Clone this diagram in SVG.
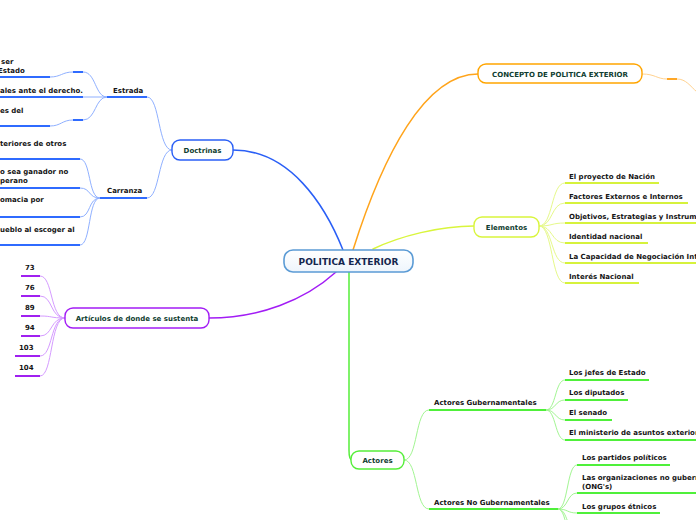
<svg xmlns="http://www.w3.org/2000/svg" width="696" height="520" viewBox="0 0 696 520">
<defs>
<style>
.t{font-family:"DejaVu Sans",Verdana,sans-serif;font-size:7px;font-weight:bold;fill:#151515}
.nl{fill:#0f3d30;text-anchor:middle}
.c{fill:none;stroke-linecap:round}
.node{fill:#fff;stroke-width:1.4}
.ub{stroke:#2f6bff;stroke-width:2;fill:none}
.lb{stroke:#8fb0ff;stroke-width:1;fill:none}
.uo{stroke:#ffa726;stroke-width:2;fill:none}
.lo{stroke:#ffd28f;stroke-width:1;fill:none}
.uy{stroke:#d6f23c;stroke-width:2;fill:none}
.ly{stroke:#e6f98a;stroke-width:1;fill:none}
.up{stroke:#a020f0;stroke-width:2;fill:none}
.lp{stroke:#d59bff;stroke-width:1;fill:none}
.ug{stroke:#4ff03a;stroke-width:2;fill:none}
.lg{stroke:#a2f592;stroke-width:1;fill:none}
</style>
<linearGradient id="cg" x1="0" y1="0" x2="0" y2="1">
<stop offset="0" stop-color="#ffffff"/>
<stop offset="1" stop-color="#eef5fc"/>
</linearGradient>
</defs>
<rect width="696" height="520" fill="#fff"/>

<g id="connectors">
<!-- main branches -->
<path class="c" d="M233,150 C290,150 325,205 343,250" stroke="#2a5ff6" stroke-width="1.5"/>
<path class="c" d="M353,250 C383,155 425,74 478,74" stroke="#ffa41b" stroke-width="1.5"/>
<path class="c" d="M373,249 C400,236 440,226 474,226" stroke="#d9f53c" stroke-width="1.5"/>
<path class="c" d="M336,272 C305,300 260,318 209,318" stroke="#a21cf5" stroke-width="1.5"/>
<path class="c" d="M349,272 L349,450 Q349,460 352,460" stroke="#55ee3a" stroke-width="1.5"/>
<!-- Doctrinas -->
<path class="lb" d="M172,150 C158,150 160,97 147,97"/>
<path class="lb" d="M172,150 C158,150 160,198 147,198"/>
<!-- Estrada children -->
<path class="lb" d="M107,97 C95,97 96,72 83,72"/>
<path class="lb" d="M73,72 C62,72 61,77 50,77"/>
<path class="lb" d="M107,97 L83,97" stroke="#b8ccff" stroke-width="1.5"/>
<path class="lb" d="M107,97 C95,97 96,120 83,120"/>
<path class="lb" d="M73,120 C62,120 61,126 50,126"/>
<!-- Carranza children -->
<path class="lb" d="M100,198 C88,198 91,159 80,159"/>
<path class="lb" d="M100,198 C88,198 91,188 80,188"/>
<path class="lb" d="M100,198 C88,198 91,217 80,217"/>
<path class="lb" d="M100,198 C88,198 91,245 80,245"/>
<!-- Concepto -->
<path class="lo" d="M642,74 C655,74 657,79 667,79"/>
<path class="lo" d="M677,79 C686,79 690,86 697,92"/>
<!-- Elementos -->
<path class="ly" d="M539,226 C553,226 551,183 565,183"/>
<path class="ly" d="M539,226 C553,226 551,203 565,203"/>
<path class="ly" d="M539,226 C553,226 551,223 565,223"/>
<path class="ly" d="M539,226 C553,226 551,243 565,243"/>
<path class="ly" d="M539,226 C553,226 551,263 565,263"/>
<path class="ly" d="M539,226 C553,226 551,283 565,283"/>
<!-- Articulos -->
<path class="lp" d="M65,318 C50,318 53,276 40,276"/>
<path class="lp" d="M65,318 C50,318 53,296 40,296"/>
<path class="lp" d="M65,318 C50,318 53,316 40,316"/>
<path class="lp" d="M65,318 C50,318 53,336 40,336"/>
<path class="lp" d="M65,318 C50,318 53,356 40,356"/>
<path class="lp" d="M65,318 C50,318 53,376 40,376"/>
<!-- Actores -->
<path class="lg" d="M404,460 C418,460 415,410 429,410"/>
<path class="lg" d="M404,460 C418,460 415,509 429,509"/>
<path class="lg" d="M546,410 C556,410 555,380 565,380"/>
<path class="lg" d="M546,410 C556,410 555,400 565,400"/>
<path class="lg" d="M546,410 C556,410 555,420 565,420"/>
<path class="lg" d="M546,410 C556,410 555,440 565,440"/>
<path class="lg" d="M558,509 C568,509 567,465 577,465"/>
<path class="lg" d="M558,509 C568,509 567,493 577,493"/>
<path class="lg" d="M558,509 C568,509 567,513 577,513"/>
<path class="lg" d="M558,509 C568,509 567,533 577,533"/>
<path class="lg" d="M558,509 C568,509 567,553 577,553"/>
</g>

<g id="center">
<rect x="284" y="250" width="129" height="22" rx="9" fill="url(#cg)" stroke="#5b9bd5" stroke-width="1.6"/>
<text class="t" x="348.5" y="264.5" text-anchor="middle" style="font-size:9px;fill:#14264f">POLITICA EXTERIOR</text>
</g>

<g id="doctrinas">
<rect class="node" x="172" y="140" width="61" height="20" rx="8" stroke="#2a5ff6"/>
<text class="t nl" x="202.5" y="153">Doctrinas</text>
</g>
<g id="estrada">
<line class="ub" x1="107" y1="97" x2="147" y2="97"/>
<text class="t" x="113" y="93">Estrada</text>
</g>
<g id="estrada-1">
<line class="ub" x1="0" y1="77" x2="50" y2="77"/>
<line class="ub" x1="73" y1="72" x2="83" y2="72"/>
<text class="t" x="1" y="64">ser</text>
<text class="t" x="-2" y="73">Estado</text>
</g>
<g id="estrada-2">
<line class="ub" x1="0" y1="97" x2="83" y2="97"/>
<text class="t" x="0" y="93">ales ante el derecho.</text>
</g>
<g id="estrada-3">
<line class="ub" x1="0" y1="126" x2="50" y2="126"/>
<line class="ub" x1="73" y1="120" x2="83" y2="120"/>
<text class="t" x="0" y="113">es del</text>
</g>
<g id="carranza">
<line class="ub" x1="100" y1="198" x2="147" y2="198"/>
<text class="t" x="107" y="193">Carranza</text>
</g>
<g id="carranza-1">
<line class="ub" x1="0" y1="159" x2="80" y2="159"/>
<text class="t" x="0" y="146">teriores de otros</text>
</g>
<g id="carranza-2">
<line class="ub" x1="0" y1="188" x2="80" y2="188"/>
<text class="t" x="0" y="174">o sea ganador no</text>
<text class="t" x="0" y="182.5">perano</text>
</g>
<g id="carranza-3">
<line class="ub" x1="0" y1="217" x2="80" y2="217"/>
<text class="t" x="0" y="202">omacia por</text>
</g>
<g id="carranza-4">
<line class="ub" x1="0" y1="245" x2="80" y2="245"/>
<text class="t" x="0" y="232">ueblo al escoger al</text>
</g>

<g id="concepto">
<rect class="node" x="478" y="64" width="164" height="19" rx="8" stroke="#ffa500"/>
<text class="t nl" x="560" y="77">CONCEPTO DE POLITICA EXTERIOR</text>
<line class="uo" x1="667" y1="79" x2="677" y2="79"/>
</g>

<g id="elementos">
<rect class="node" x="474" y="217" width="65" height="20" rx="8" stroke="#d9f53c"/>
<text class="t nl" x="506.5" y="230">Elementos</text>
</g>
<g id="el-1"><line class="uy" x1="565" y1="183" x2="659" y2="183"/><text class="t" x="569" y="179">El proyecto de Nación</text></g>
<g id="el-2"><line class="uy" x1="565" y1="203" x2="688" y2="203"/><text class="t" x="569" y="199">Factores Externos e Internos</text></g>
<g id="el-3"><line class="uy" x1="565" y1="223" x2="700" y2="223"/><text class="t" x="569" y="219">Objetivos, Estrategias y Instrumentos</text></g>
<g id="el-4"><line class="uy" x1="565" y1="243" x2="648" y2="243"/><text class="t" x="569" y="239">Identidad nacional</text></g>
<g id="el-5"><line class="uy" x1="565" y1="263" x2="700" y2="263"/><text class="t" x="569" y="259">La Capacidad de Negociación Internacional</text></g>
<g id="el-6"><line class="uy" x1="565" y1="283" x2="639" y2="283"/><text class="t" x="569" y="279">Interés Nacional</text></g>

<g id="articulos">
<rect class="node" x="65" y="308" width="144" height="20" rx="8" stroke="#a21cf5"/>
<text class="t nl" x="137" y="321">Artículos de donde se sustenta</text>
</g>
<g id="art-73"><line class="up" x1="21" y1="276" x2="40" y2="276"/><text class="t" x="25" y="270">73</text></g>
<g id="art-76"><line class="up" x1="21" y1="296" x2="40" y2="296"/><text class="t" x="25" y="290">76</text></g>
<g id="art-89"><line class="up" x1="21" y1="316" x2="40" y2="316"/><text class="t" x="25" y="310">89</text></g>
<g id="art-94"><line class="up" x1="21" y1="336" x2="40" y2="336"/><text class="t" x="25" y="330">94</text></g>
<g id="art-103"><line class="up" x1="15" y1="356" x2="40" y2="356"/><text class="t" x="19" y="350">103</text></g>
<g id="art-104"><line class="up" x1="15" y1="376" x2="40" y2="376"/><text class="t" x="19" y="370">104</text></g>

<g id="actores">
<rect class="node" x="351" y="451" width="53" height="18" rx="8" stroke="#55ee3a"/>
<text class="t nl" x="377.5" y="463">Actores</text>
</g>
<g id="act-gub"><line class="ug" x1="429" y1="410" x2="546" y2="410"/><text class="t" x="434" y="405">Actores Gubernamentales</text></g>
<g id="gub-1"><line class="ug" x1="565" y1="380" x2="649" y2="380"/><text class="t" x="569" y="375">Los jefes de Estado</text></g>
<g id="gub-2"><line class="ug" x1="565" y1="400" x2="628" y2="400"/><text class="t" x="569" y="395">Los diputados</text></g>
<g id="gub-3"><line class="ug" x1="565" y1="420" x2="612" y2="420"/><text class="t" x="569" y="415">El senado</text></g>
<g id="gub-4"><line class="ug" x1="565" y1="440" x2="700" y2="440"/><text class="t" x="569" y="435">El ministerio de asuntos exteriores</text></g>
<g id="act-nogub"><line class="ug" x1="429" y1="509" x2="558" y2="509"/><text class="t" x="434" y="505">Actores No Gubernamentales</text></g>
<g id="nogub-1"><line class="ug" x1="577" y1="465" x2="670" y2="465"/><text class="t" x="582" y="460">Los partidos políticos</text></g>
<g id="nogub-2"><line class="ug" x1="577" y1="493" x2="700" y2="493"/><text class="t" x="582" y="480">Las organizaciones no gubernamentales</text><text class="t" x="582" y="489">(ONG's)</text></g>
<g id="nogub-3"><line class="ug" x1="577" y1="513" x2="660" y2="513"/><text class="t" x="582" y="508.5">Los grupos étnicos</text></g>
</svg>
